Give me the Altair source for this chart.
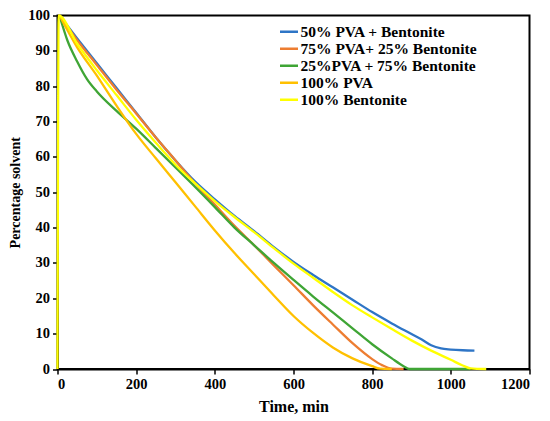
import altair as alt
import pandas as pd

series_names = ["50% PVA + Bentonite", "75% PVA+ 25% Bentonite", "25%PVA + 75% Bentonite",
                "100% PVA", "100% Bentonite"]
series_colors = ["#2E75C6", "#ED7D31", "#3FA535", "#FFC000", "#FFFF00"]

blue_t = [5, 50, 100, 150, 200, 250, 300, 350, 400, 450, 500, 550, 600, 650, 700, 750, 800, 850, 900, 925, 950, 975, 1000, 1030, 1060]
blue_v = [100, 93.5, 86.5, 79.5, 72.5, 65.5, 59, 53, 48, 43.3, 39, 34.5, 30.3, 26.6, 23.1, 19.6, 16.1, 12.9, 9.9, 8.4, 6.7, 5.8, 5.5, 5.3, 5.2]

orange_t = [5, 50, 100, 150, 200, 250, 300, 350, 400, 450, 500, 550, 600, 650, 700, 750, 800, 825, 850, 880]
orange_v = [100, 93, 86, 79, 72.3, 65.5, 59, 52.5, 46.5, 40.5, 35, 29.3, 23.7, 18, 12.6, 7.3, 2.8, 1.1, 0.1, 0]

green_t = [5, 25, 50, 75, 100, 150, 200, 250, 300, 350, 400, 450, 500, 550, 600, 650, 700, 750, 800, 850, 880, 895, 1050]
green_v = [100, 93, 87, 82, 78.5, 73, 68, 62.5, 57, 51.5, 45.8, 40, 35, 30, 25.2, 20.5, 16, 11.5, 7, 3, 0.8, 0, 0]

gold_t = [5, 50, 100, 150, 200, 250, 300, 350, 400, 450, 500, 550, 600, 650, 700, 750, 800, 820, 850]
gold_v = [100, 91, 83, 74.5, 66.5, 59.6, 52.8, 46, 39.2, 32.8, 26.8, 20.8, 15, 10.2, 6.1, 3, 0.8, 0.1, 0]

yellow_t = [0, 3, 50, 100, 150, 200, 250, 300, 350, 400, 450, 500, 550, 600, 650, 700, 750, 800, 850, 900, 950, 1000, 1030, 1050, 1090]
yellow_v = [0, 100, 92, 84.5, 77.5, 70.5, 64, 57.8, 52.5, 47.5, 43, 38.7, 34.2, 29.8, 25.8, 21.8, 18, 14.6, 11.3, 8.1, 5.2, 2.6, 1, 0.2, 0]

all_t = [blue_t, orange_t, green_t, gold_t, yellow_t]
all_v = [blue_v, orange_v, green_v, gold_v, yellow_v]

rows = []
for name, ts, vs in zip(series_names, all_t, all_v):
    for t, v in zip(ts, vs):
        rows.append({"series": name, "time": t, "value": v})
df = pd.DataFrame(rows)

font = "Liberation Serif"

color = alt.Color(
    "series:N",
    scale=alt.Scale(domain=series_names, range=series_colors),
    legend=alt.Legend(
        title=None, orient="none", legendX=221, legendY=8,
        symbolType="stroke", symbolSize=324, symbolStrokeWidth=2.5,
        labelFont=font, labelFontWeight="bold", labelFontSize=15.5, labelColor="black",
        labelOffset=1, rowPadding=0, clipHeight=16.5, labelLimit=400,
    ),
)

x = alt.X("time:Q", scale=alt.Scale(domain=[0, 1200], nice=False),
          axis=alt.Axis(values=list(range(0, 1201, 200)), format="d", title="Time, min",
                        titlePadding=8, titleFontSize=16))
y = alt.Y("value:Q", scale=alt.Scale(domain=[0, 100], nice=False),
          axis=alt.Axis(values=list(range(0, 101, 10)), format="d", title="Percentage solvent",
                        titlePadding=5, titleFontSize=14))

layers = []
for name in series_names:
    layers.append(
        alt.Chart(df).transform_filter(alt.datum.series == name)
        .mark_line(interpolate="monotone", strokeWidth=2.3)
        .encode(x=x, y=y, color=color)
    )

chart = alt.layer(*layers).properties(
    width=472, height=353.5,
    autosize=alt.AutoSizeParams(type="none"),
    padding={"left": 49.5, "top": 7.5, "right": 12, "bottom": 50},
).configure(font=font).configure_view(stroke="black", strokeWidth=2).configure_axis(
    grid=False, domainColor="black", domainWidth=2, tickColor="black", tickWidth=1.5, tickSize=5,
    labelFont=font, labelFontWeight="bold", labelFontSize=14.5, labelColor="black",
    titleFont=font, titleFontWeight="bold", titleColor="black",
    labelPadding=3,
)

chart.save("out.html", embed_options={"renderer": "svg", "actions": False})
